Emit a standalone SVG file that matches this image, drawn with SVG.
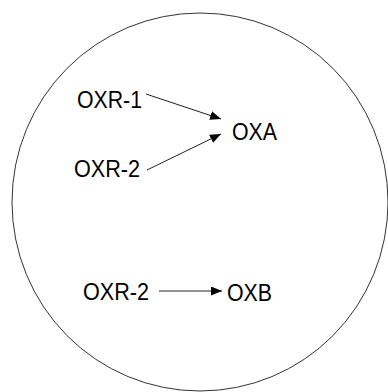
<svg xmlns="http://www.w3.org/2000/svg" width="388" height="392" viewBox="0 0 388 392">
<defs>
<style>
.t{font-family:"Liberation Sans",Arial,sans-serif;font-size:23px;fill:#000}
.c{stroke:#222;stroke-width:1;fill:none}
</style>
<marker id="ah" viewBox="0 0 11 9" refX="11" refY="4.5" markerWidth="11" markerHeight="9" markerUnits="userSpaceOnUse" orient="auto">
<path d="M0,0 L11,4.5 L0,9 Z" fill="#000"/>
</marker>
</defs>
<rect width="388" height="392" fill="#fff"/>
<ellipse cx="200" cy="202" rx="188" ry="189" fill="none" stroke="#333" stroke-width="1"/>
<g id="connectors">
<line class="c" x1="146" y1="94" x2="221" y2="119" marker-end="url(#ah)"/>
<line class="c" x1="147" y1="170" x2="221" y2="134" marker-end="url(#ah)"/>
<line class="c" x1="159" y1="291" x2="222" y2="291" marker-end="url(#ah)"/>
</g>
<g id="oxr1"><text class="t" x="77" y="108" textLength="65" lengthAdjust="spacingAndGlyphs">OXR-1</text></g>
<g id="oxa"><text class="t" x="232" y="140" textLength="45" lengthAdjust="spacingAndGlyphs">OXA</text></g>
<g id="oxr2a"><text class="t" x="74" y="177" textLength="66" lengthAdjust="spacingAndGlyphs">OXR-2</text></g>
<g id="oxr2b"><text class="t" x="83" y="300" textLength="66" lengthAdjust="spacingAndGlyphs">OXR-2</text></g>
<g id="oxb"><text class="t" x="227" y="301" textLength="45" lengthAdjust="spacingAndGlyphs">OXB</text></g>
</svg>
